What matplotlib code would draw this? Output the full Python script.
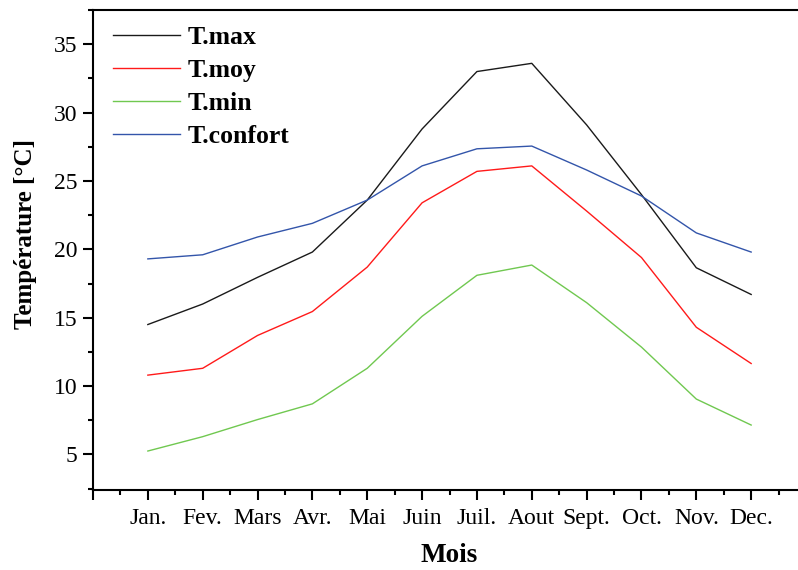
import numpy as np
import matplotlib
matplotlib.use("Agg")
import matplotlib.pyplot as plt
from matplotlib.ticker import MultipleLocator

# Données
mois = ["Jan.", "Fev.", "Mars", "Avr.", "Mai", "Juin",
        "Juil.", "Aout", "Sept.", "Oct.", "Nov.", "Dec."]
t_max = [14.5, 16.0, 17.95, 19.8, 23.6, 28.8, 33.0, 33.6, 29.1, 24.0, 18.65, 16.7]
t_moy = [10.8, 11.3, 13.7, 15.45, 18.7, 23.4, 25.7, 26.1, 22.8, 19.4, 14.3, 11.65]
t_min = [5.25, 6.3, 7.55, 8.7, 11.3, 15.1, 18.1, 18.85, 16.1, 12.85, 9.05, 7.15]
t_confort = [19.3, 19.6, 20.9, 21.9, 23.6, 26.1, 27.35, 27.55, 25.8, 23.9, 21.2, 19.8]

plt.rcParams['font.family'] = ['Liberation Serif', 'DejaVu Serif']

fig = plt.figure(figsize=(7.98, 5.70), dpi=100)
ax = fig.add_axes([93 / 798, 80 / 570, 713 / 798, 480 / 570])

x = np.arange(1, len(mois) + 1)
ax.plot(x, t_max, color="#1a1a1a", lw=1.0, label="T.max")
ax.plot(x, t_moy, color="#ff1a1a", lw=1.0, label="T.moy")
ax.plot(x, t_min, color="#70c850", lw=1.0, label="T.min")
ax.plot(x, t_confort, color="#3355aa", lw=1.0, label="T.confort")

ax.set_xlim(0, 13)
ax.set_ylim(2.4, 37.5)

ax.set_xticks(np.arange(0, 14))
ax.set_xticklabels([""] + mois + [""])
ax.xaxis.set_minor_locator(MultipleLocator(0.5))
ax.set_yticks([5, 10, 15, 20, 25, 30, 35])
ax.yaxis.set_minor_locator(MultipleLocator(2.5))

ax.tick_params(which="major", direction="out", length=7, width=1.5,
               labelsize=17, pad=4)
ax.tick_params(which="minor", direction="out", length=3.5, width=1.5)
ax.tick_params(axis="x", which="major", pad=6)

for s in ax.spines.values():
    s.set_linewidth(1.5)

ax.set_xlabel("Mois", fontsize=19.5, fontweight="bold", labelpad=10)
ax.set_ylabel("Température [°C]", fontsize=18, fontweight="bold")
ax.yaxis.set_label_coords(-0.079, 0.534)

ax.legend(loc="upper left", bbox_to_anchor=(0.028, 0.966), frameon=False,
          prop={"size": 18.5, "weight": "bold"}, handlelength=2.6,
          handletextpad=0.3, labelspacing=0.39, borderpad=0, borderaxespad=0)

fig.savefig("out.png", dpi=100)
